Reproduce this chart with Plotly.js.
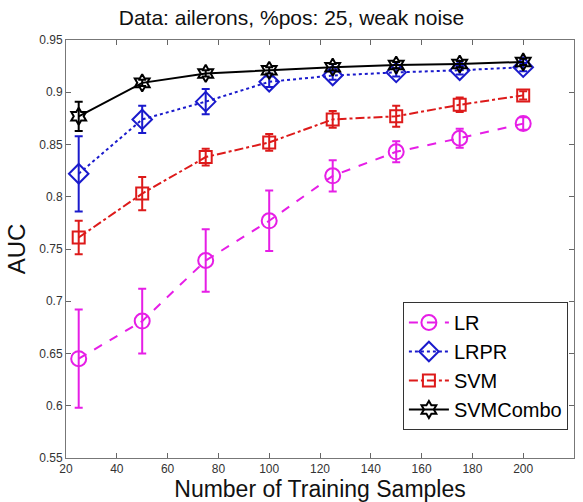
<!DOCTYPE html>
<html>
<head>
<meta charset="utf-8">
<script src="https://cdn.plot.ly/plotly-3.0.1.min.js"></script>
<style>html,body{margin:0;padding:0;background:#fff;}#chart{width:583px;height:502px;}</style>
</head>
<body>
<div id="chart"></div>
<script>
const samples = [25, 50, 75, 100, 125, 150, 175, 200];

const lrMean  = [0.645, 0.681, 0.739, 0.777, 0.820, 0.843, 0.856, 0.870];
const lrErr   = [0.047, 0.031, 0.030, 0.029, 0.015, 0.010, 0.009, 0.006];

const lrprMean = [0.822, 0.874, 0.891, 0.910, 0.916, 0.919, 0.921, 0.924];
const lrprErr  = [0.036, 0.013, 0.012, 0.005, 0.004, 0.004, 0.004, 0.004];

const svmMean = [0.761, 0.803, 0.838, 0.852, 0.874, 0.877, 0.888, 0.897];
const svmErr  = [0.016, 0.016, 0.008, 0.008, 0.008, 0.010, 0.007, 0.004];

const comboMean = [0.877, 0.909, 0.918, 0.921, 0.924, 0.926, 0.927, 0.929];
const comboErr  = [0.014, 0.003, 0.003, 0.003, 0.003, 0.003, 0.003, 0.003];

const seriesNames = ['LR', 'LRPR', 'SVM', 'SVMCombo'];

const yTickVals = [0.55, 0.6, 0.65, 0.7, 0.75, 0.8, 0.85, 0.9, 0.95];
const yTickText = ['0.55', '0.6', '0.65', '0.7', '0.75', '0.8', '0.85', '0.9', '0.95'];
const xTickVals = [20, 40, 60, 80, 100, 120, 140, 160, 180, 200, 220];

function trace(name, mean, err, color, dash, symbol, size) {
  return {
    type: 'scatter', mode: 'lines+markers', name: name,
    x: samples, y: mean,
    error_y: {type: 'data', array: err, visible: true, color: color, thickness: 2, width: 4},
    line: {color: color, dash: dash, width: 2},
    marker: {symbol: symbol, size: size, color: color, line: {color: color, width: 2}}
  };
}

const data = [
  trace(seriesNames[0], lrMean, lrErr, '#e61ee6', 'dash', 'circle-open', 15),
  trace(seriesNames[1], lrprMean, lrprErr, '#1a1acc', 'dot', 'diamond-open', 15),
  trace(seriesNames[2], svmMean, svmErr, '#dd1a1a', 'dashdot', 'square-open', 12),
  trace(seriesNames[3], comboMean, comboErr, '#000000', 'solid', 'hexagram-open', 13)
];

const font = 'Liberation Sans, Arial, sans-serif';
const layout = {
  width: 583, height: 502,
  margin: {l: 66, r: 9, t: 40, b: 44},
  paper_bgcolor: '#fff', plot_bgcolor: '#fff',
  font: {family: font, color: '#222'},
  title: {text: 'Data: ailerons, %pos: 25, weak noise', font: {family: font, size: 21, color: '#111'},
          x: 0.5, xanchor: 'center', y: 0.964, yanchor: 'middle', yref: 'container'},
  xaxis: {
    range: [20, 220], tickvals: xTickVals, ticks: 'inside', ticklen: 5, tickcolor: '#666',
    showline: true, linecolor: '#777', linewidth: 1, mirror: 'ticks', showgrid: false, zeroline: false,
    tickfont: {size: 12, color: '#333'},
    title: {text: 'Number of Training Samples', font: {family: font, size: 23, color: '#111'}, standoff: 2}
  },
  yaxis: {
    range: [0.55, 0.95], tickvals: yTickVals, ticktext: yTickText, ticks: 'inside', ticklen: 5, tickcolor: '#666',
    showline: true, linecolor: '#777', linewidth: 1, mirror: 'ticks', showgrid: false, zeroline: false,
    tickfont: {size: 12, color: '#333'},
    title: {text: 'AUC', font: {family: font, size: 24, color: '#111'}, standoff: 6}
  },
  showlegend: true,
  legend: {
    x: 0.988, xanchor: 'right', y: 0.067, yanchor: 'bottom',
    bgcolor: '#fff', bordercolor: '#333', borderwidth: 1,
    font: {family: font, size: 20, color: '#000'}, itemwidth: 40, tracegroupgap: 0
  }
};

Plotly.newPlot('chart', data, layout, {displayModeBar: false});
</script>
</body>
</html>
